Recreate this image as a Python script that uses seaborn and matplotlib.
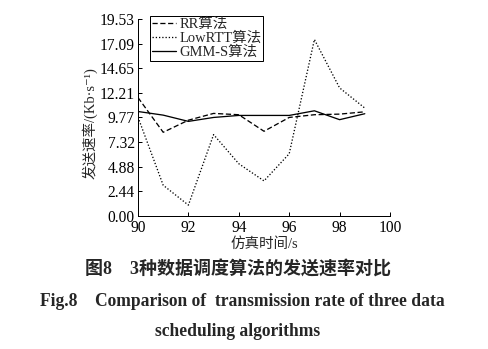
import numpy as np
import pandas as pd
import matplotlib
matplotlib.use("Agg")
import matplotlib.pyplot as plt
import seaborn as sns

# ---- data ----
time_s = [90, 91, 92, 93, 94, 95, 96, 97, 98, 99]
rr_rate = [11.74, 8.30, 9.50, 10.17, 10.04, 8.40, 9.77, 10.04, 10.10, 10.33]
lowrtt_rate = [9.80, 3.05, 1.08, 8.07, 5.18, 3.48, 6.17, 17.50, 12.70, 10.70]
gmms_rate = [10.36, 10.00, 9.38, 9.77, 9.97, 9.97, 9.97, 10.43, 9.55, 10.14]
series_names = ["RR算法", "LowRTT算法", "GMM-S算法"]
y_ticks = [0.00, 2.44, 4.88, 7.32, 9.77, 12.21, 14.65, 17.09, 19.53]
x_ticks = [90, 92, 94, 96, 98, 100]

df = pd.DataFrame({
    "time": time_s * 3,
    "rate": rr_rate + lowrtt_rate + gmms_rate,
    "algo": [series_names[0]] * len(time_s) + [series_names[1]] * len(time_s)
            + [series_names[2]] * len(time_s),
})

sns.set_style("ticks")
plt.rcParams["font.family"] = ["Liberation Serif", "Noto Sans CJK SC", "DejaVu Sans"]
plt.rcParams["xtick.direction"] = "in"
plt.rcParams["ytick.direction"] = "in"

DPI = 72
fig = plt.figure(figsize=(488 / DPI, 349 / DPI), dpi=DPI)
ax = fig.add_axes([138 / 488, 1 - 216 / 349, (390 - 138) / 488, (216 - 19) / 349])

sns.lineplot(data=df, x="time", y="rate", hue="algo", style="algo",
             palette=["black", "black", "black"],
             dashes={series_names[0]: (4, 2), series_names[1]: (1, 1.5), series_names[2]: ""},
             linewidth=1.3, ax=ax, legend=True)

ax.set_xlim(90, 100)
ax.set_ylim(0, 19.53)
ax.set_xticks(x_ticks)
ax.set_yticks(y_ticks)
ax.set_yticklabels([f"{v:.2f}" for v in y_ticks])
ax.tick_params(axis="both", labelsize=15.5, length=4, width=1, colors="black")
ax.tick_params(axis="x", pad=4)
ax.tick_params(axis="y", pad=3)
for s in ["top", "right"]:
    ax.spines[s].set_visible(False)
for s in ["left", "bottom"]:
    ax.spines[s].set_color("black")
    ax.spines[s].set_linewidth(1)

ax.set_xlabel("仿真时间/s", fontsize=14.5, labelpad=1)
ax.set_ylabel("发送速率/(Kb·s⁻¹)", fontsize=14.5)
ax.yaxis.set_label_coords(-0.16, 0.47)

handles, labels = ax.get_legend_handles_labels()
leg = ax.legend(handles, labels, loc="upper left",
                bbox_to_anchor=(150 / 488, 1 - 16 / 349), bbox_transform=fig.transFigure,
                borderaxespad=0, fontsize=14.5, handlelength=1.7, handletextpad=0.2,
                labelspacing=0.05, borderpad=0.12, fancybox=False, framealpha=1,
                edgecolor="black")
leg.get_frame().set_linewidth(1)

fig.text(85 / 488, 1 - 270 / 349, "图8　3种数据调度算法的发送速率对比", ha="left", va="center",
         fontsize=18, fontweight="bold")
fig.text(40 / 488, 1 - 302 / 349, "Fig.8    Comparison of  transmission rate of three data",
         ha="left", va="center", fontsize=17.5, fontweight="bold")
fig.text(238 / 488, 1 - 331 / 349, "scheduling algorithms", ha="center", va="center",
         fontsize=17.5, fontweight="bold")

fig.savefig("out.png", dpi=DPI)
